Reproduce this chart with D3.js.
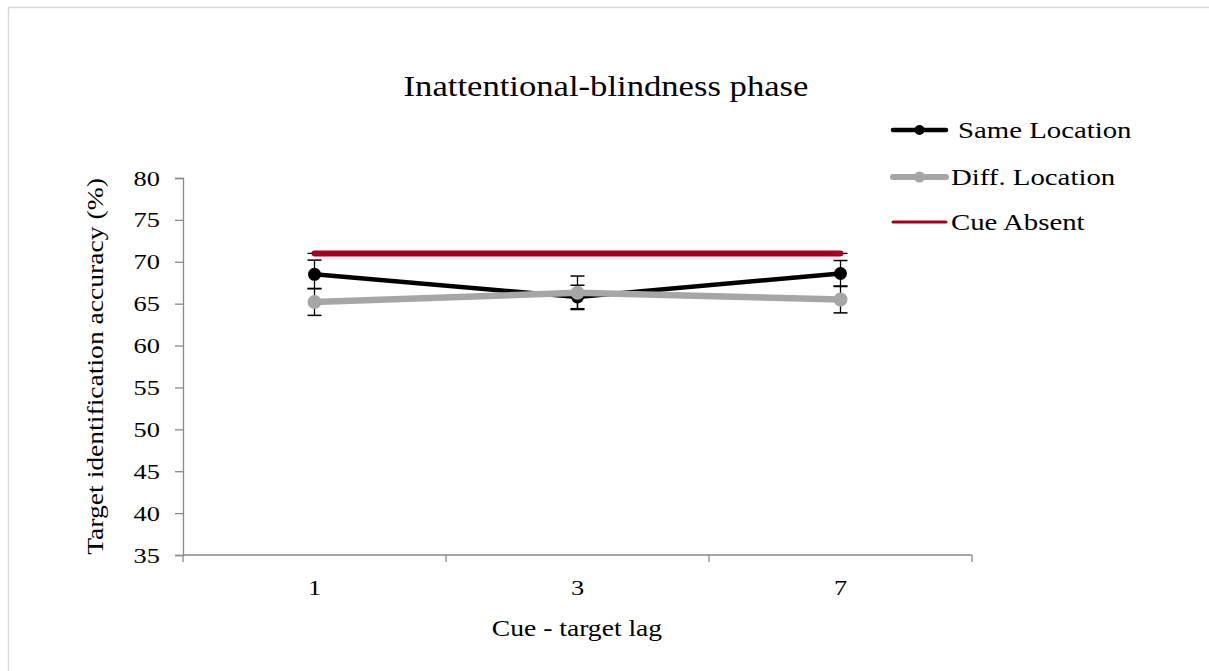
<!DOCTYPE html>
<html>
<head>
<meta charset="utf-8">
<script src="https://cdn.jsdelivr.net/npm/d3@7"></script>
<style>
  html, body { margin: 0; padding: 0; background: #fff; }
  svg { display: block; }
  text { font-family: "Liberation Serif", "Times New Roman", serif; fill: #000; }
</style>
</head>
<body>
<svg id="chart" width="1209" height="671"></svg>
<script>
// Accuracy by cue-target lag
const lags = ["1", "3", "7"];
const sameLocation = [68.5, 65.8, 68.6];
const sameLocationErr = [1.7, 1.4, 1.55];
const diffLocation = [65.2, 66.3, 65.5];
const diffLocationErr = [1.6, 2.0, 1.6];
const cueAbsent = [71.0, 71.0, 71.0];
const yTicks = [35, 40, 45, 50, 55, 60, 65, 70, 75, 80];

const svg = d3.select("#chart");

// text placed at (x, y), widened along its own baseline
function label(x, y, str, size, anchor, angle, stretch) {
  const g = svg.append("g")
    .attr("transform", `translate(${x},${y}) rotate(${angle || 0}) scale(${stretch || 1.2},1)`);
  g.append("text").attr("text-anchor", anchor || "start").style("font-size", size + "px").text(str);
  return g;
}

// frame
svg.append("line").attr("x1", 8.5).attr("x2", 1209).attr("y1", 7.5).attr("y2", 7.5)
  .attr("stroke", "#d9d9d9").attr("stroke-width", 1.5);
svg.append("line").attr("x1", 8.5).attr("x2", 8.5).attr("y1", 7.5).attr("y2", 671)
  .attr("stroke", "#d9d9d9").attr("stroke-width", 1.5);

const plot = { left: 183, right: 972, top: 178, bottom: 555 };

const x = d3.scaleBand().domain(lags).range([plot.left, plot.right]).padding(0);
const cx = d => x(d) + x.bandwidth() / 2;
const y = d3.scaleLinear().domain([35, 80]).range([plot.bottom, plot.top]);

// y axis (line and ticks from d3, labels set separately)
const yAxis = svg.append("g").attr("transform", `translate(${plot.left},0)`)
  .call(d3.axisLeft(y).tickValues(yTicks).tickSize(8).tickFormat(""));
yAxis.select(".domain").attr("stroke", "#898989").attr("stroke-width", 1.3);
yAxis.selectAll(".tick line").attr("stroke", "#898989").attr("stroke-width", 1.3);
yTicks.forEach(t => label(160, y(t) + 7.5, String(t), 22, "end"));

// x axis with ticks at band edges
const xAxisG = svg.append("g").attr("transform", `translate(0,${plot.bottom})`);
xAxisG.append("line").attr("x1", plot.left).attr("x2", plot.right).attr("y1", 0).attr("y2", 0)
  .attr("stroke", "#898989").attr("stroke-width", 1.3);
const edges = lags.map(d => x(d)).concat([plot.right]);
xAxisG.selectAll("line.edge").data(edges).enter().append("line").attr("class", "edge")
  .attr("x1", d => d).attr("x2", d => d).attr("y1", 0).attr("y2", 7)
  .attr("stroke", "#898989").attr("stroke-width", 1.3);
lags.forEach(d => label(cx(d), plot.bottom + 40, d, 22, "middle"));

// titles
label(606, 96, "Inattentional-blindness phase", 30, "middle", 0, 1.155);
label(577, 636, "Cue - target lag", 23, "middle");
label(103, (plot.top + plot.bottom) / 2, "Target identification accuracy (%)", 23, "middle", -90);

const line = d3.line().x((d, i) => cx(lags[i])).y(d => y(d));

function errorBars(vals, errs) {
  const g = svg.append("g");
  vals.forEach((v, i) => {
    const px = cx(lags[i]);
    const lo = y(v - errs[i]), hi = y(v + errs[i]);
    g.append("line").attr("x1", px).attr("x2", px).attr("y1", hi).attr("y2", lo)
      .attr("stroke", "#000").attr("stroke-width", 1.3);
    [hi, lo].forEach(yy => g.append("line").attr("x1", px - 7).attr("x2", px + 7)
      .attr("y1", yy).attr("y2", yy).attr("stroke", "#000").attr("stroke-width", 1.5));
  });
}

// error bars sit beneath the series lines
errorBars(sameLocation, sameLocationErr);
errorBars(diffLocation, diffLocationErr);
cueAbsent.forEach((v, i) => {
  const px = cx(lags[i]);
  svg.append("line").attr("x1", px - 7).attr("x2", px + 7).attr("y1", y(v)).attr("y2", y(v))
    .attr("stroke", "#000").attr("stroke-width", 1.3);
});

// Cue Absent
svg.append("path").datum(cueAbsent).attr("d", line).attr("fill", "none")
  .attr("stroke", "#a50021").attr("stroke-width", 6).attr("stroke-linecap", "round");

// Same Location
svg.append("path").datum(sameLocation).attr("d", line).attr("fill", "none")
  .attr("stroke", "#000").attr("stroke-width", 4.5);
svg.selectAll("circle.same").data(sameLocation).enter().append("circle").attr("class", "same")
  .attr("cx", (d, i) => cx(lags[i])).attr("cy", d => y(d)).attr("r", 6.5).attr("fill", "#000");

// Diff. Location
svg.append("path").datum(diffLocation).attr("d", line).attr("fill", "none")
  .attr("stroke", "#a6a6a6").attr("stroke-width", 6.5);
svg.selectAll("circle.diff").data(diffLocation).enter().append("circle").attr("class", "diff")
  .attr("cx", (d, i) => cx(lags[i])).attr("cy", d => y(d)).attr("r", 7).attr("fill", "#a6a6a6");

// legend
const legend = [
  { label: "Same Location", color: "#000", width: 4.5, marker: true, r: 5, tx: 958, ty: 130 },
  { label: "Diff. Location", color: "#a6a6a6", width: 6, marker: true, r: 5.5, tx: 951, ty: 177 },
  { label: "Cue Absent", color: "#a50021", width: 3, marker: false, tx: 951, ty: 222 }
];
legend.forEach(d => {
  svg.append("line").attr("x1", 893).attr("x2", 946).attr("y1", d.ty).attr("y2", d.ty)
    .attr("stroke", d.color).attr("stroke-width", d.width).attr("stroke-linecap", "round");
  if (d.marker) svg.append("circle").attr("cx", 919.5).attr("cy", d.ty).attr("r", d.r).attr("fill", d.color);
  label(d.tx, d.ty + 8, d.label, 24, "start");
});
</script>
</body>
</html>
